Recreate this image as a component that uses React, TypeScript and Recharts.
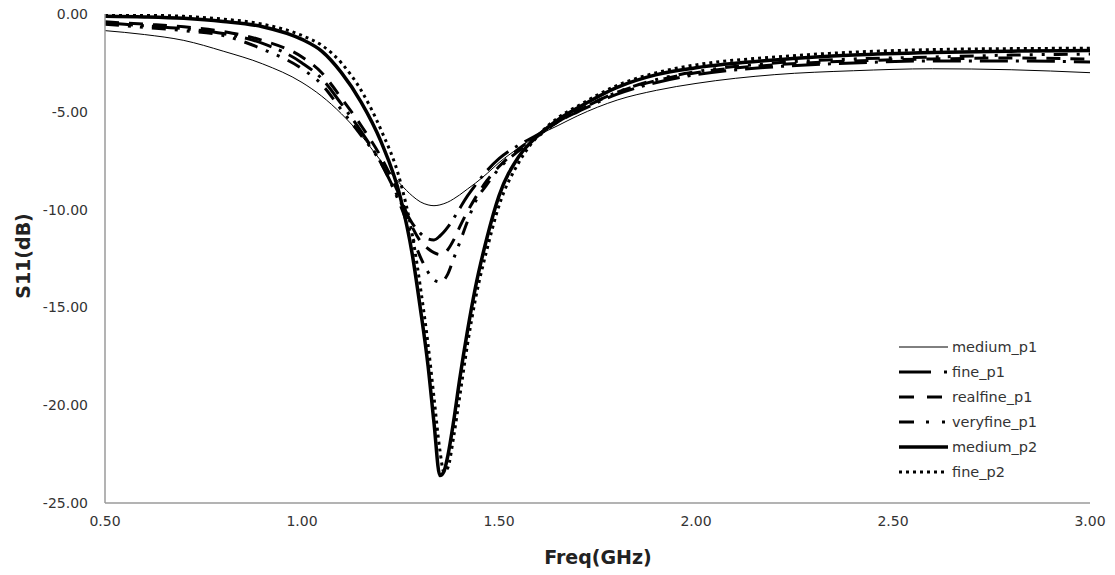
import React from 'react';
import { LineChart, Line, XAxis, YAxis, Legend, Label } from 'recharts';

// frequency points (GHz)
const freq = [
  0.5, 0.6, 0.7, 0.8, 0.9, 1.0, 1.05, 1.1, 1.15, 1.2, 1.25, 1.28, 1.3, 1.32, 1.335, 1.35, 1.36, 1.37,
  1.385, 1.4, 1.42, 1.44, 1.47, 1.5, 1.55, 1.6, 1.65, 1.7, 1.8, 1.9, 2.0, 2.2, 2.4, 2.6, 2.8, 3.0,
];

// S11 (dB)
const mediumP1 = [
  -0.85, -1.05, -1.35, -1.9, -2.55, -3.5, -4.2, -5.1, -6.2, -7.5, -8.7, -9.3, -9.6, -9.76, -9.8, -9.76, -9.7, -9.62,
  -9.45, -9.25, -8.95, -8.65, -8.15, -7.6, -6.85, -6.2, -5.7, -5.2, -4.4, -3.9, -3.55, -3.1, -2.9, -2.8, -2.85, -3.0,
];
const fineP1 = [
  -0.45, -0.6, -0.75, -1.0, -1.5, -2.5, -3.3, -4.6, -6.0, -7.6, -9.6, -10.7, -11.2, -11.5, -11.55, -11.35, -11.15, -10.9,
  -10.45, -9.95, -9.3, -8.75, -8.0, -7.4, -6.7, -6.15, -5.5, -5.0, -4.1, -3.5, -3.1, -2.7, -2.5, -2.4, -2.4, -2.45,
];
const realfineP1 = [
  -0.4, -0.52, -0.65, -0.9, -1.35, -2.2, -3.0, -4.3, -5.7, -7.3, -9.4, -10.9, -11.6, -12.0, -12.2, -12.3, -12.25, -12.05,
  -11.55, -10.9, -10.1, -9.4, -8.5, -7.8, -6.9, -6.2, -5.5, -4.95, -4.0, -3.4, -3.0, -2.6, -2.4, -2.3, -2.25, -2.3,
];
const veryfineP1 = [
  -0.52, -0.68, -0.85, -1.1, -1.8, -2.8, -3.6, -4.9, -6.2, -7.6, -9.8, -11.4, -12.4, -13.2, -13.6, -13.7, -13.6, -13.3,
  -12.5, -11.7, -10.6, -9.6, -8.7, -7.9, -7.0, -6.25, -5.5, -4.95, -4.0, -3.35, -2.95, -2.5, -2.3, -2.2, -2.1, -2.05,
];
const mediumP2 = [
  -0.12, -0.15, -0.22, -0.38, -0.65, -1.3, -1.9, -3.0, -4.5, -6.5, -9.4, -12.3, -15.0, -18.0, -20.9, -23.6, -23.4, -22.6,
  -20.8, -18.7, -16.2, -14.0, -11.4, -9.3, -7.3, -6.2, -5.4, -4.8, -3.75, -3.1, -2.75, -2.35, -2.1, -1.97, -1.9, -1.87,
];
const fineP2 = [
  -0.03, -0.06, -0.12, -0.26, -0.52, -1.1, -1.6, -2.5, -3.9, -5.9, -8.6, -11.3, -13.9, -16.9, -19.6, -22.3, -23.4, -23.2,
  -21.6, -19.6, -16.9, -14.6, -12.0, -9.8, -7.6, -6.2, -5.3, -4.7, -3.65, -3.0, -2.6, -2.2, -1.95, -1.82, -1.77, -1.75,
];

const xTicks = [0.5, 1.0, 1.5, 2.0, 2.5, 3.0];
const yTicks = [0, -5, -10, -15, -20, -25];

const series = [
  { key: 'medium_p1', values: mediumP1, width: 1, dash: undefined, legendDash: undefined },
  { key: 'fine_p1', values: fineP1, width: 3, dash: '28 8 3 8', legendDash: '32 13 3 20' },
  { key: 'realfine_p1', values: realfineP1, width: 3, dash: '14 10', legendDash: '15 13' },
  { key: 'veryfine_p1', values: veryfineP1, width: 3, dash: '14 9 3 9 3 9', legendDash: '15 12 3 13 3 12' },
  { key: 'medium_p2', values: mediumP2, width: 3.5, dash: undefined, legendDash: undefined },
  { key: 'fine_p2', values: fineP2, width: 3, dash: '3 4', legendDash: '3 4' },
];

const data = freq.map((f, i) => {
  const row: Record<string, number> = { f };
  series.forEach(s => { row[s.key] = s.values[i]; });
  return row;
});

const font = '"DejaVu Sans", Verdana, sans-serif';

const renderLegend = () => (
  <div style={{ fontFamily: font, fontSize: 14.5, color: '#333' }}>
    {series.map(s => (
      <div key={s.key} style={{ display: 'flex', alignItems: 'center', height: 25 }}>
        <svg width={52} height={10}>
          <line x1={1} y1={5} x2={50} y2={5} stroke="#000" strokeWidth={s.width} strokeDasharray={s.legendDash} />
        </svg>
        <span style={{ marginLeft: 2 }}>{s.key}</span>
      </div>
    ))}
  </div>
);

const App: React.FC = () => (
  <div style={{ position: 'absolute', left: 0, top: 0, background: '#fff' }}>
    <LineChart width={1115} height={575} data={data} margin={{ top: 14, right: 25, bottom: 0, left: 0 }}>
      <XAxis
        dataKey="f"
        type="number"
        domain={[0.5, 3]}
        ticks={xTicks}
        tickFormatter={(v: number) => v.toFixed(2)}
        height={72}
        axisLine={{ stroke: '#9a9a9a', strokeWidth: 1.5 }}
        tickLine={false}
        tickMargin={7}
        tick={{ fill: '#333', fontSize: 14, fontFamily: font }}
        allowDataOverflow
      >
        <Label
          content={() => (
            <text x={598} y={557} textAnchor="middle" dominantBaseline="central"
              style={{ fontFamily: font, fontSize: 19, fontWeight: 'bold', fill: '#222' }}>
              Freq(GHz)
            </text>
          )}
        />
      </XAxis>
      <YAxis
        type="number"
        domain={[-25, 0]}
        ticks={yTicks}
        tickFormatter={(v: number) => v.toFixed(2)}
        width={105}
        axisLine={{ stroke: '#9a9a9a', strokeWidth: 1.5 }}
        tickLine={false}
        tickMargin={11}
        tick={{ fill: '#333', fontSize: 14, fontFamily: font }}
        allowDataOverflow
      >
        <Label
          content={() => (
            <text x={23} y={256} transform="rotate(-90 23 256)" textAnchor="middle" dominantBaseline="central"
              style={{ fontFamily: font, fontSize: 19, fontWeight: 'bold', fill: '#222' }}>
              S11(dB)
            </text>
          )}
        />
      </YAxis>
      <Legend
        layout="vertical"
        align="center"
        verticalAlign="middle"
        content={renderLegend}
        wrapperStyle={{ position: 'absolute', left: 898, top: 334, width: 200, height: 'auto' }}
      />
      {series.map(s => (
        <Line
          key={s.key}
          dataKey={s.key}
          type="monotone"
          stroke="#000"
          strokeWidth={s.width}
          strokeDasharray={s.dash}
          dot={false}
          activeDot={false}
          isAnimationActive={false}
        />
      ))}
    </LineChart>
  </div>
);

export default App;
